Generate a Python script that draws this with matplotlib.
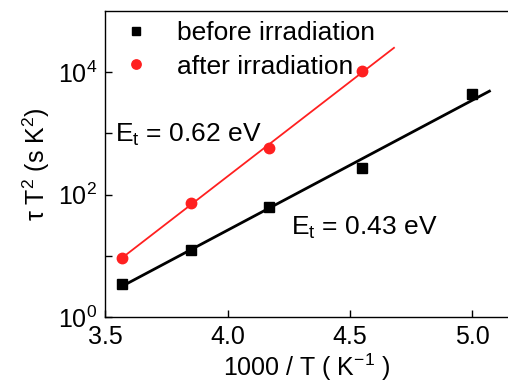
import matplotlib
matplotlib.use("Agg")
import matplotlib.pyplot as plt
import numpy as np
from matplotlib.ticker import FixedLocator, LogFormatterSciNotation, NullFormatter

plt.rcParams['font.family'] = ['Liberation Sans', 'DejaVu Sans']
plt.rcParams['mathtext.fontset'] = 'custom'
plt.rcParams['mathtext.rm'] = 'Liberation Sans'
plt.rcParams['mathtext.it'] = 'Liberation Sans'
plt.rcParams['mathtext.bf'] = 'Liberation Sans'

# data
inv_t_before = [3.57, 3.85, 4.17, 4.55, 5.0]
tau_t2_before = [3.5, 12.5, 62, 270, 4400]
inv_t_after = [3.57, 3.85, 4.17, 4.55]
tau_t2_after = [9.3, 74, 570, 10700]
fit_range_before = [3.57, 5.07]
fit_range_after = [3.57, 4.68]

fig = plt.figure(figsize=(5.08, 3.85), dpi=100)
ax = fig.add_axes([0.207, 0.177, 0.795, 0.794])

# Arrhenius fits (straight lines on log scale)
kb, ab = np.polyfit(inv_t_before, np.log10(tau_t2_before), 1)
ka, aa = np.polyfit(inv_t_after, np.log10(tau_t2_after), 1)
xb = np.array(fit_range_before)
xa = np.array(fit_range_after)
ax.plot(xb, 10**(kb*xb + ab), color='black', lw=2.0, zorder=2)
ax.plot(xa, 10**(ka*xa + aa), color='#ff2020', lw=1.3, zorder=2)

ax.plot(inv_t_before, tau_t2_before, 's', color='black', ms=7, ls='none',
        label='before irradiation', zorder=3)
ax.plot(inv_t_after, tau_t2_after, 'o', color='#ff2020', ms=7.5, ls='none',
        label='after irradiation', zorder=3)

ax.set_yscale('log')
ax.set_xlim(3.5, 5.15)
ax.set_ylim(1, 1e5)
ax.xaxis.set_major_locator(FixedLocator([3.5, 4.0, 4.5, 5.0]))
ax.yaxis.set_major_locator(FixedLocator([1, 1e2, 1e4]))
ax.yaxis.set_major_formatter(LogFormatterSciNotation())
ax.yaxis.set_minor_locator(FixedLocator([10, 1e3]))
ax.yaxis.set_minor_formatter(NullFormatter())
ax.tick_params(which='both', direction='in', length=5, width=1, labelsize=18, pad=6)
ax.tick_params(axis='x', which='minor', bottom=False)
for s in ax.spines.values():
    s.set_linewidth(1.0)

ax.set_xlabel('1000 / T ( K$^{-1}$ )', fontsize=18, labelpad=2)
ax.set_ylabel('τ T$^2$ (s K$^2$)', fontsize=18, labelpad=4)

ax.text(3.54, 10**2.98, 'E$_{\\mathrm{t}}$ = 0.62 eV', fontsize=19, va='center')
ax.text(4.26, 10**1.45, 'E$_{\\mathrm{t}}$ = 0.43 eV', fontsize=19, va='center')

ax.legend(loc='upper left', frameon=False, fontsize=19, handletextpad=0.8,
          handlelength=1.5, borderaxespad=0.1, labelspacing=0.35,
          bbox_to_anchor=(-0.005, 1.01), markerscale=0.9)

fig.savefig('out.png', dpi=100)
